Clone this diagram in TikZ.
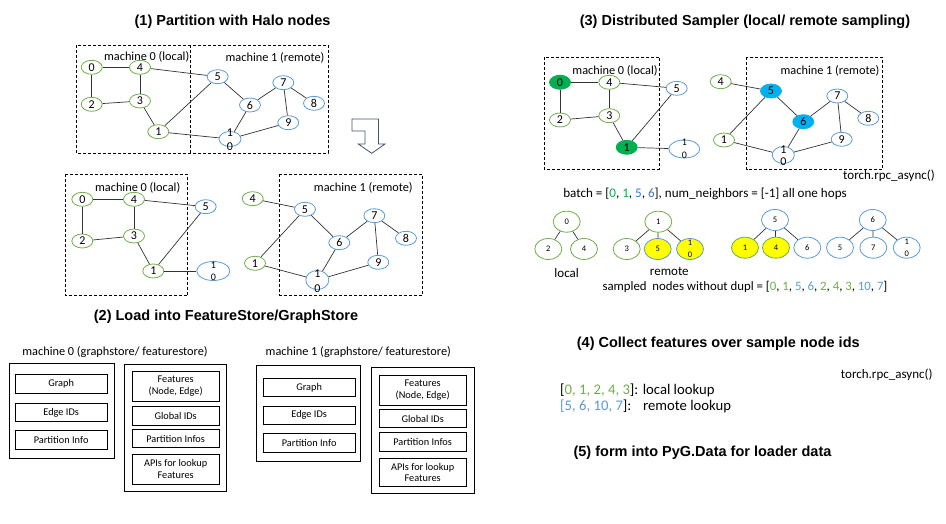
\documentclass[tikz,border=0pt]{standalone}
\usepackage{fontspec}
\setmainfont{Carlito}
\newfontfamily\arial{Liberation Sans}
\usetikzlibrary{shapes.geometric}
\definecolor{cg}{HTML}{70AD47}
\definecolor{cb}{HTML}{5B9BD5}
\definecolor{dg}{HTML}{00B050}
\definecolor{lb}{HTML}{00B0F0}
\definecolor{cbt}{HTML}{4472C4}
\definecolor{ylw}{HTML}{FFFF00}
\definecolor{slate}{HTML}{44546A}
\begin{document}
\begin{tikzpicture}[x=1pt,y=-1pt,
  nd/.style={ellipse, line width=0.8pt, minimum width=21pt, minimum height=14pt, inner sep=0pt, font=\fontsize{12}{13}\selectfont},
  gn/.style={nd, draw=cg},
  bn/.style={nd, draw=cb},
  ed/.style={line width=0.7pt, draw=black!80},
  mbox/.style={dash pattern=on 3pt off 2pt, line width=0.8pt},
  lbl/.style={font=\fontsize{12.3}{14}\selectfont, inner sep=0pt},
  twol/.style={align=center, inner sep=0pt},
  tn/.style={ellipse, line width=0.8pt, minimum width=27pt, minimum height=21pt, inner sep=0pt, font=\fontsize{8.5}{9}\selectfont},
  ttl/.style={font=\arial\bfseries\fontsize{14.5}{17}\selectfont, inner sep=0pt},
  ob/.style={line width=0.8pt},
  ib/.style={line width=0.7pt},
  btx/.style={font=\fontsize{10.3}{11.7}\selectfont, align=center, inner sep=0pt}
]
\useasboundingbox (0,0) rectangle (946,524);

% ---------------- (1) ----------------
\node[ttl] (t1) at (232.5,22) {(1) Partition with Halo nodes};
\draw[mbox] (76,45) rectangle (328,153);
\draw[mbox] (190,45) -- (190,153);
\node[lbl] (m1a) at (146.7,56.8) {machine 0 (local)};
\node[lbl] (m1b) at (275,58.3) {machine 1 (remote)};
\node[gn] (a0) at (91.7,67.3) {0};
\node[gn] (a4) at (140,67.3) {4};
\node[gn] (a2) at (91.7,104.3) {2};
\node[gn] (a3) at (140,101) {3};
\node[gn] (a1) at (158.3,131.7) {1};
\node[bn] (a5) at (217.7,76.7) {5};
\node[bn] (a6) at (250,105) {6};
\node[bn] (a7) at (283.3,82.7) {7};
\node[bn] (a8) at (314,103.3) {8};
\node[bn] (a9) at (288.3,122.7) {9};
\node[bn, minimum width=22pt, minimum height=15pt] (a10) at (230,139) {};
\node[twol, font=\fontsize{12}{13.7}\selectfont] (a10t) at (230,139.5) {1\\0};
\foreach \u/\v in {a0/a4,a0/a2,a4/a3,a2/a3,a3/a1,a4/a5,a1/a5,a1/a10,a5/a6,a6/a10,a6/a7,a7/a8,a7/a9,a9/a10}
  \draw[ed] (\u) -- (\v);

% arrow
\draw[slate, line width=0.8pt, fill=white] (352,119) -- (378.5,119) -- (378.5,144) -- (385,144) -- (371.7,153.3) -- (358.3,144) -- (365,144) -- (365,131) -- (352,131) -- cycle;

% ---------------- (2) graphs ----------------
\draw[mbox] (65,174.3) rectangle (187.7,295.7);
\node[lbl] (m2a) at (137.7,187.7) {machine 0 (local)};
\node[gn] (b0) at (82.3,199.3) {0};
\node[gn] (b4) at (134,199.3) {4};
\node[gn] (b2) at (82.3,241) {2};
\node[gn] (b3) at (134,236) {3};
\node[gn] (b1) at (153.3,271) {1};
\node[bn] (b5) at (205.7,206.7) {5};
\node[bn, minimum width=33pt, minimum height=19pt] (b10) at (213.3,271) {};
\node[twol, font=\fontsize{10}{12.3}\selectfont] (b10t) at (213.3,271) {1\\0};
\foreach \u/\v in {b0/b4,b0/b2,b4/b3,b2/b3,b3/b1,b4/b5,b1/b5,b1/b10}
  \draw[ed] (\u) -- (\v);

\draw[mbox] (279.3,174.3) rectangle (422.3,295);
\node[lbl] (m2b) at (363.3,187.7) {machine 1 (remote)};
\node[gn] (c4) at (252.7,198.7) {4};
\node[bn] (c5) at (305,209.3) {5};
\node[gn] (c1) at (255,263.3) {1};
\node[bn] (c6) at (339.3,242.7) {6};
\node[bn] (c7) at (374.3,215.7) {7};
\node[bn] (c8) at (406,238.3) {8};
\node[bn] (c9) at (378.3,262.3) {9};
\node[bn, minimum width=23pt, minimum height=19pt] (c10) at (317.3,280) {};
\node[twol, font=\fontsize{12}{15}\selectfont] (c10t) at (317.3,280.8) {1\\0};
\foreach \u/\v in {c4/c5,c5/c1,c5/c6,c6/c7,c7/c8,c7/c9,c6/c10,c1/c10,c9/c10}
  \draw[ed] (\u) -- (\v);

\node[ttl] (t2) at (226,317) {(2) Load into FeatureStore/GraphStore};

% ---------------- (2) stores ----------------
\node[lbl] (s0) at (115,351.7) {machine 0 (graphstore/ featurestore)};
\draw[ob] (9.3,363.3) rectangle (114.3,458.3);
\draw[ib] (15,374.3) rectangle node[btx] (s0g) {Graph} (107.3,393.3);
\draw[ib] (15,403.3) rectangle node[btx] (s0e) {Edge IDs} (107.3,421.7);
\draw[ib] (15,430.7) rectangle node[btx] (s0p) {Partition Info} (107.3,449);
\draw[ob] (124,364.3) rectangle (226.7,491.7);
\draw[ib] (132.3,371.7) rectangle node[btx] (s0f) {Features\\(Node, Edge)} (219,401);
\draw[ib] (132.3,406) rectangle node[btx] (s0i) {Global IDs} (219,425);
\draw[ib] (132.3,429.3) rectangle node[btx] (s0q) {Partition Infos} (219,447.7);
\draw[ib] (132.3,454.3) rectangle node[btx] (s0a) {APIs for lookup\\Features} (219,484.3);

\node[lbl] (s1) at (358.3,351.7) {machine 1 (graphstore/ featurestore)};
\draw[ob] (256.7,365.7) rectangle (360.7,461);
\draw[ib] (263.3,378.3) rectangle node[btx] (s1g) {Graph} (355,396.7);
\draw[ib] (263.3,406) rectangle node[btx] (s1e) {Edge IDs} (355,424.3);
\draw[ib] (263.3,433.3) rectangle node[btx] (s1p) {Partition Info} (355,452.3);
\draw[ob] (371.7,367.3) rectangle (474.3,493.3);
\draw[ib] (379.3,375.7) rectangle node[btx] (s1f) {Features\\(Node, Edge)} (466,405);
\draw[ib] (379.3,409.3) rectangle node[btx] (s1i) {Global IDs} (466,427.7);
\draw[ib] (379.3,432.3) rectangle node[btx] (s1q) {Partition Infos} (466,451.7);
\draw[ib] (379.3,458.3) rectangle node[btx] (s1a) {APIs for lookup\\Features} (466,486.7);

% ---------------- (3) ----------------
\node[ttl] (t3) at (745,22) {(3) Distributed Sampler (local/ remote sampling)};
\draw[mbox] (544,57) rectangle (659.3,169);
\node[lbl] (m3a) at (615,70.7) {machine 0 (local)};
\node[gn, fill=dg, draw=dg] (d0) at (560,82.3) {0};
\node[gn] (d4) at (609.3,82.3) {4};
\node[gn] (d2) at (560,120) {2};
\node[gn] (d3) at (609.3,115.7) {3};
\node[gn, fill=dg, draw=dg] (d1) at (626.7,147.3) {1};
\node[bn] (d5) at (676.7,88.3) {5};
\node[bn, minimum width=31pt, minimum height=18pt] (d10) at (684.3,149) {};
\node[twol, font=\fontsize{10}{12.7}\selectfont] (d10t) at (684.3,148.5) {1\\0};
\foreach \u/\v in {d0/d4,d0/d2,d4/d3,d2/d3,d3/d1,d4/d5,d1/d5,d1/d10}
  \draw[ed] (\u) -- (\v);

\draw[mbox] (746.7,57) rectangle (882.7,169.3);
\node[lbl] (m3b) at (830,70.7) {machine 1 (remote)};
\node[gn] (e4) at (720.7,81.7) {4};
\node[bn, fill=lb, draw=lb] (e5) at (771,91) {5};
\node[gn] (e1) at (724,140) {1};
\node[bn, fill=lb, draw=lb] (e6) at (803.3,121.7) {6};
\node[bn] (e7) at (837.3,96) {7};
\node[bn] (e8) at (868.3,118.3) {8};
\node[bn] (e9) at (841.7,139.3) {9};
\node[bn, minimum width=22pt, minimum height=17pt] (e10) at (783.3,155) {};
\node[twol, font=\fontsize{12}{12.3}\selectfont] (e10t) at (783.3,156) {1\\0};
\foreach \u/\v in {e4/e5,e5/e1,e5/e6,e6/e7,e7/e8,e7/e9,e6/e10,e1/e10,e9/e10}
  \draw[ed] (\u) -- (\v);

\node[lbl, font=\fontsize{13}{14}\selectfont] (rpc1) at (889,176) {torch.rpc\_async()};
\node[lbl, font=\fontsize{13.1}{15}\selectfont] (batch) at (705,194) {batch = [{\color{dg}0}, {\color{dg}1}, {\color{cbt}5}, {\color{cbt}6}], num\_neighbors = [-1] all one hops};

% trees
\node[tn, draw=cg] (t1r) at (566.7,221.7) {0};
\node[tn, draw=cg] (t1a) at (548.3,249) {2};
\node[tn, draw=cg] (t1b) at (584,249) {4};
\draw[ed] (t1r) -- (t1a); \draw[ed] (t1r) -- (t1b);

\node[tn, draw=cg] (t2r) at (658.3,221.7) {1};
\node[tn, draw=cg] (t2a) at (626.7,249) {3};
\node[tn, draw=cb, fill=ylw] (t2b) at (657.7,249) {5};
\node[tn, draw=cb, fill=ylw] (t2c) at (690,249) {};
\node[twol, font=\fontsize{8.5}{11.7}\selectfont] (t2ct) at (690,249) {1\\0};
\draw[ed] (t2r) -- (t2a); \draw[ed] (t2r) -- (t2b); \draw[ed] (t2r) -- (t2c);

\node[tn, draw=cb] (t3r) at (775,220) {5};
\node[tn, draw=cg, fill=ylw] (t3a) at (745,247.7) {1};
\node[tn, draw=cg, fill=ylw] (t3b) at (776,247.7) {4};
\node[tn, draw=cb] (t3c) at (807.3,247.7) {6};
\draw[ed] (t3r) -- (t3a); \draw[ed] (t3r) -- (t3b); \draw[ed] (t3r) -- (t3c);

\node[tn, draw=cb] (t4r) at (872.7,220) {6};
\node[tn, draw=cb] (t4a) at (840,247.7) {5};
\node[tn, draw=cb] (t4b) at (873.3,247.7) {7};
\node[tn, draw=cb] (t4c) at (906.7,247.7) {};
\node[twol, font=\fontsize{8.5}{11.7}\selectfont] (t4ct) at (906.7,247.7) {1\\0};
\draw[ed] (t4r) -- (t4a); \draw[ed] (t4r) -- (t4b); \draw[ed] (t4r) -- (t4c);

\node[lbl, font=\fontsize{13}{14}\selectfont] (loc) at (566.7,273.3) {local};
\node[lbl, font=\fontsize{13}{14}\selectfont] (rem) at (669.3,271.7) {remote};
\node[lbl, font=\fontsize{12.8}{14}\selectfont] (samp) at (745,286.7) {sampled\ \ nodes without dupl = [{\color{cg}0}, {\color{cg}1}, {\color{cb}5}, {\color{cb}6}, {\color{cg}2}, {\color{cg}4}, {\color{cg}3}, {\color{cb}10}, {\color{cb}7}]};

% ---------------- (4) (5) ----------------
\node[ttl] (t4) at (718.3,344) {(4) Collect features over sample node ids};
\node[lbl, font=\fontsize{13}{14}\selectfont] (rpc2) at (886.7,375) {torch.rpc\_async()};
\node[anchor=west, inner sep=0pt, font=\fontsize{14.7}{16}\selectfont] (l1) at (560,390) {[{\color{cg}0, 1, 2, 4, 3}]: local lookup};
\node[anchor=west, inner sep=0pt, font=\fontsize{14.7}{16}\selectfont] (l2) at (560,406.7) {{\color{cb}[5, 6, 10, 7}]:\hspace{0.8em}remote lookup};
\node[ttl] (t5) at (702.5,452.3) {(5) form into PyG.Data for loader data};
\end{tikzpicture}
\end{document}
